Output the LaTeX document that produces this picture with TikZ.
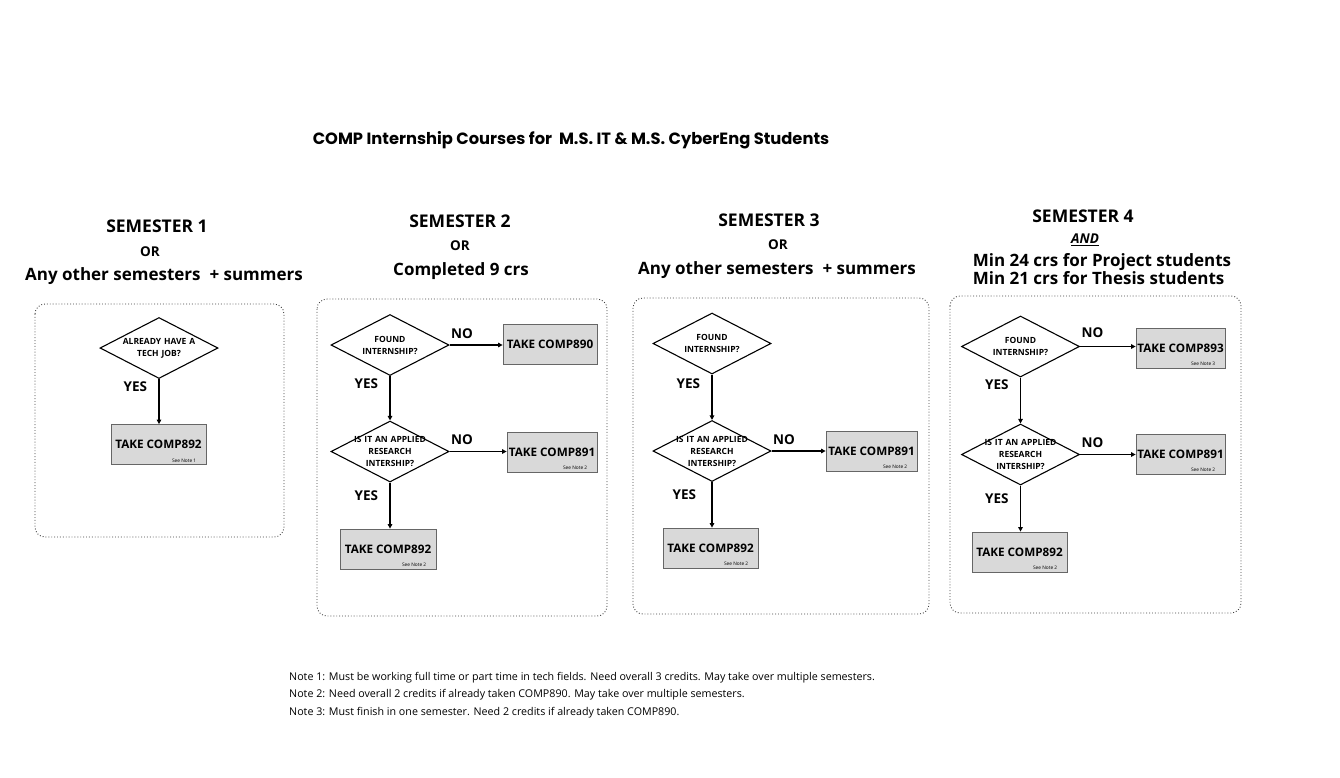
\documentclass[tikz,border=0pt]{standalone}
\usepackage{fontspec}
\setmainfont{Open Sans}
\newfontfamily\titlefont{Poppins}
\usetikzlibrary{shapes.geometric,arrows.meta}
\newcommand{\dl}[1]{\makebox[0pt]{#1}}

\begin{document}
\begin{tikzpicture}[x=1pt,y=-1pt,
  panel/.style={draw=black!75,dotted,line width=0.9pt,rounded corners=10pt},
  decision/.style={diamond,draw=black,line width=1.1pt,minimum width=118pt,minimum height=61pt,inner sep=0pt,
    text width=0pt,align=center,font=\fontsize{8.5}{12}\selectfont\bfseries},
  action/.style={rectangle,draw=black!60,line width=0.8pt,fill=black!15,minimum width=95pt,minimum height=40pt,
    inner sep=1pt,font=\fontsize{11.7}{13}\selectfont\bfseries},
  seenote/.style={anchor=south east,inner sep=1pt,xshift=-9pt,yshift=1.5pt,font=\fontsize{4.8}{5}\selectfont\mdseries},
  arr/.style={-{Triangle[length=4.5pt,width=4.5pt]},line width=1.1pt},
  answer/.style={font=\fontsize{13.5}{14}\selectfont\bfseries},
  yeslabel/.style={answer,left=8pt},
  nolabel/.style={answer,pos=0,anchor=south west,inner sep=0pt,xshift=1pt,yshift=6pt},
  head/.style={font=\fontsize{17.5}{16}\selectfont\bfseries},
  cond/.style={font=\fontsize{17}{16}\selectfont\bfseries},
  orlabel/.style={font=\fontsize{13.5}{14}\selectfont\bfseries},
  notetext/.style={anchor=west,inner sep=0pt,font=\fontsize{10.7}{12}\selectfont}]
\useasboundingbox (0,0) rectangle (1340,777);

\node[font=\titlefont\fontsize{16.3}{18}\selectfont\bfseries] (title) at (571,140)
  {COMP Internship Courses for\ \ M.S. IT \& M.S. CyberEng Students};

% semester headings
\node[head] (sem1) at (157,226) {SEMESTER 1};
\node[orlabel] (sem1or) at (150,252) {OR};
\node[cond] (sem1cond) at (164,276) {Any other semesters\ \ + summers};
\node[head] (sem2) at (460,221) {SEMESTER 2};
\node[orlabel] (sem2or) at (460,246) {OR};
\node[cond] (sem2cond) at (461,271) {Completed 9 crs};
\node[head] (sem3) at (769,220) {SEMESTER 3};
\node[orlabel] (sem3or) at (778,245) {OR};
\node[cond] (sem3cond) at (777,270) {Any other semesters\ \ + summers};
\node[head] (sem4) at (1083,216) {SEMESTER 4};
\node[orlabel] (sem4and) at (1085,240) {\underline{\itshape AND}};
\node[cond,align=left] (sem4cond) at (1102,269)
  {Min 24 crs for Project students\\Min 21 crs for Thesis students};

% semester 1
\draw[panel] (35,304) rectangle (284,537);
\node[decision] (p1job) at (159,348) {\dl{ALREADY HAVE A}\\\dl{TECH JOB?}};
\node[action,label={[seenote]south east:See Note 1}] (p1c892) at (158.5,444.5) {TAKE COMP892};
\draw[arr] (p1job.south) -- node[yeslabel,pos=0.18]{YES} (p1job.south |- p1c892.north);

% semester 2
\draw[panel] (317,299) rectangle (607,616);
\node[decision] (p2found) at (390,345) {\dl{FOUND}\\\dl{INTERNSHIP?}};
\node[action,minimum width=94pt] (p2c890) at (550,344) {TAKE COMP890};
\node[decision] (p2appl) at (390,451.5) {\dl{IS IT AN APPLIED}\\\dl{RESEARCH}\\\dl{INTERSHIP?}};
\node[action,minimum width=90pt,label={[seenote]south east:See Note 2}] (p2c891) at (552,452) {TAKE COMP891};
\node[action,minimum width=96pt,label={[seenote]south east:See Note 2}] (p2c892) at (388,549) {TAKE COMP892};
\draw[arr] (p2found.east) -- node[nolabel]{NO} (p2found.east -| p2c890.west);
\draw[arr] (p2found.south) -- node[yeslabel,pos=0.18]{YES} (p2found.south |- p2appl.north);
\draw[arr] (p2appl.east) -- node[nolabel]{NO} (p2appl.east -| p2c891.west);
\draw[arr] (p2appl.south) -- node[yeslabel,pos=0.28]{YES} (p2appl.south |- p2c892.north);

% semester 3
\draw[panel] (633,298) rectangle (929,614);
\node[decision] (p3found) at (712,343.5) {\dl{FOUND}\\\dl{INTERNSHIP?}};
\node[decision] (p3appl) at (712,451) {\dl{IS IT AN APPLIED}\\\dl{RESEARCH}\\\dl{INTERSHIP?}};
\node[action,minimum width=91pt,label={[seenote]south east:See Note 2}] (p3c891) at (871.5,451) {TAKE COMP891};
\node[action,label={[seenote]south east:See Note 2}] (p3c892) at (710.5,548) {TAKE COMP892};
\draw[arr] (p3found.south) -- node[yeslabel,pos=0.2]{YES} (p3found.south |- p3appl.north);
\draw[arr] (p3appl.east) -- node[nolabel]{NO} (p3appl.east -| p3c891.west);
\draw[arr] (p3appl.south) -- node[yeslabel,pos=0.28,left=4pt]{YES} (p3appl.south |- p3c892.north);

% semester 4
\draw[panel] (950,296) rectangle (1241,613);
\node[decision] (p4found) at (1020.5,346.5) {\dl{FOUND}\\\dl{INTERNSHIP?}};
\node[action,minimum width=89pt,label={[seenote]south east:See Note 3}] (p4c893) at (1180.5,348) {TAKE COMP893};
\node[decision] (p4appl) at (1020.5,454.5) {\dl{IS IT AN APPLIED}\\\dl{RESEARCH}\\\dl{INTERSHIP?}};
\node[action,minimum width=89pt,label={[seenote]south east:See Note 2}] (p4c891) at (1180.5,454) {TAKE COMP891};
\node[action,label={[seenote]south east:See Note 2}] (p4c892) at (1019.5,552) {TAKE COMP892};
\draw[arr] (p4found.east) -- node[nolabel,yshift=2pt]{NO} (p4found.east -| p4c893.west);
\draw[arr] (p4found.south) -- node[yeslabel,pos=0.15]{YES} (p4found.south |- p4appl.north);
\draw[arr] (p4appl.east) -- node[nolabel]{NO} (p4appl.east -| p4c891.west);
\draw[arr] (p4appl.south) -- node[yeslabel,pos=0.28]{YES} (p4appl.south |- p4c892.north);

% notes
\node[notetext] (note1) at (289,678) {Note 1: Must be working full time or part time in tech fields. Need overall 3 credits. May take over multiple semesters.};
\node[notetext] (note2) at (289,695) {Note 2: Need overall 2 credits if already taken COMP890. May take over multiple semesters.};
\node[notetext] (note3) at (289,713) {Note 3: Must finish in one semester. Need 2 credits if already taken COMP890.};
\end{tikzpicture}
\end{document}
